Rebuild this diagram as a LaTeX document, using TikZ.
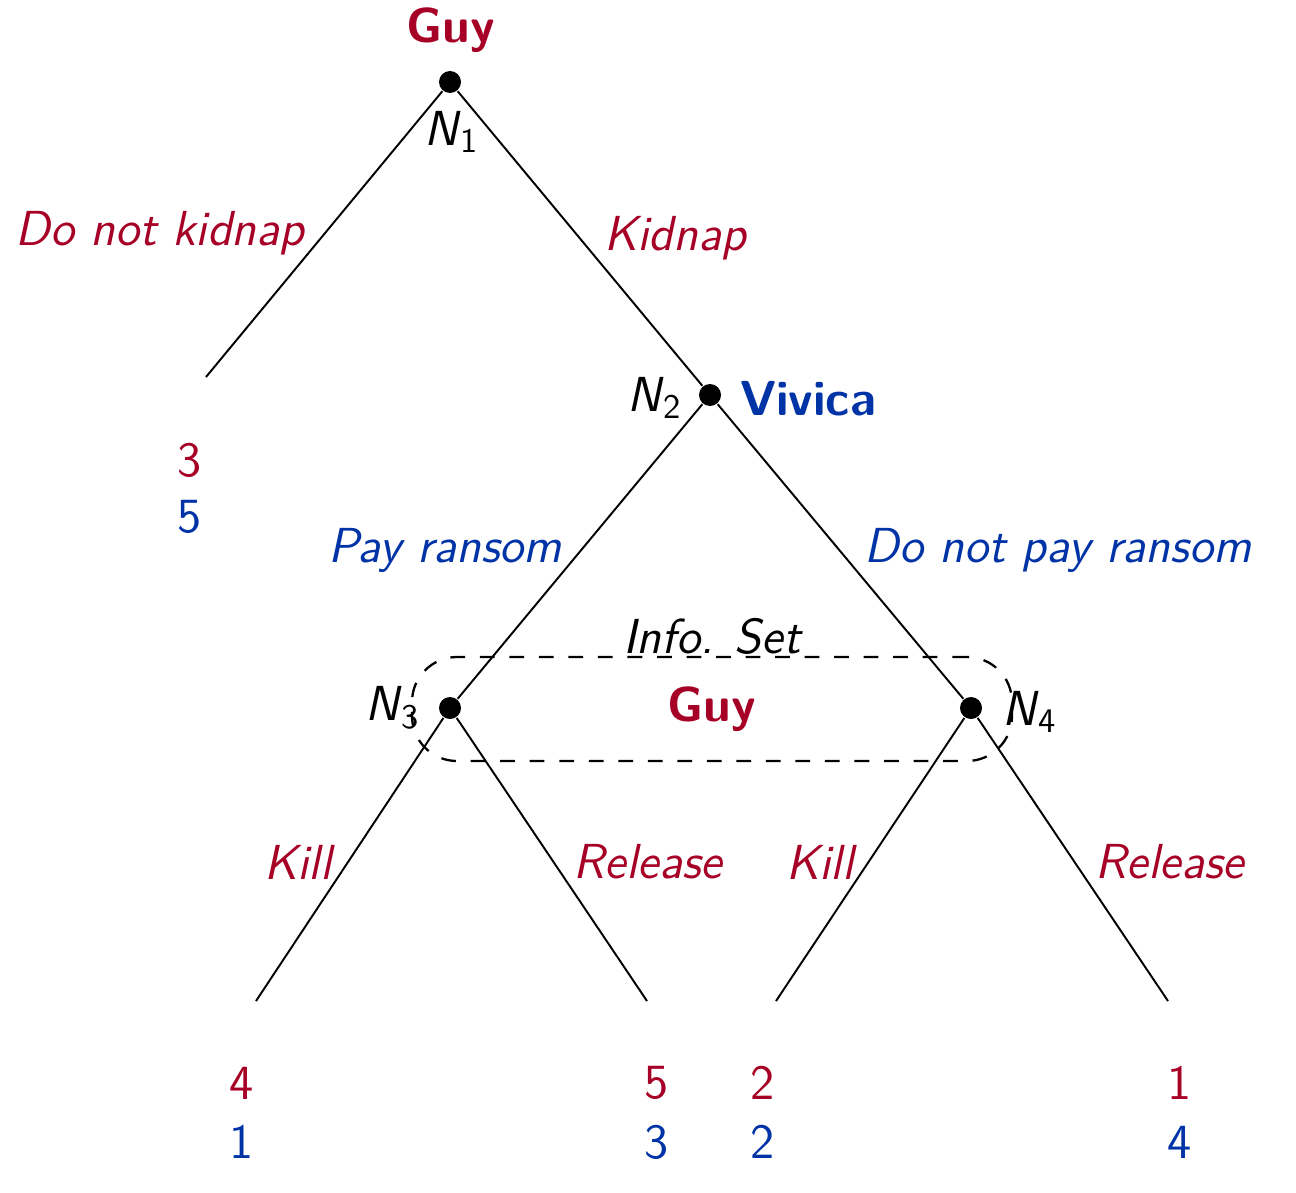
\documentclass[tikz,border=0pt]{standalone}
\usetikzlibrary{positioning}
\definecolor{guyred}{RGB}{166,0,38}
\definecolor{vivblue}{RGB}{0,51,166}
\newcommand{\nd}[1]{\textit{N}\textsubscript{#1}}

\begin{document}
\sffamily\fontsize{14}{17}\selectfont
\begin{tikzpicture}[
    line width=0.55pt,
    dot/.style={circle, fill=black, inner sep=0pt, minimum size=0.22cm},
    guy/.style={text=guyred},
    viv/.style={text=vivblue},
    act/.style={font=\itshape},
    who/.style={font=\bfseries},
    iset/.style={draw, dash pattern=on 4.2pt off 4.2pt, line width=0.65pt, rounded corners=0.45cm, minimum width=6cm, minimum height=1.04cm}
]
\useasboundingbox (0,0) rectangle (12.96,-11.92);

% decision nodes
\node[dot] (n1) at (4.50,-0.82) {};
\node[dot] (n2) at (7.10,-3.95) {};
\node[dot] (n3) at (4.50,-7.08) {};
\node[dot] (n4) at (9.71,-7.08) {};
\coordinate (t0) at (2.06,-3.77);
\coordinate (t1) at (2.56,-10.01);
\coordinate (t2) at (6.47,-10.01);
\coordinate (t3) at (7.76,-10.01);
\coordinate (t4) at (11.68,-10.01);

\draw (n1) -- (t0);
\draw (n1) -- (n2);
\draw (n2) -- (n3);
\draw (n2) -- (n4);
\draw (n3) -- (t1);
\draw (n3) -- (t2);
\draw (n4) -- (t3);
\draw (n4) -- (t4);

% players and node names
\node[guy, who] (g1) at (4.51,-0.30) {Guy};
\node[viv, who] (v1) at (8.08,-3.99) {Vivica};
\node (l1) at (4.52,-1.32) {\nd{1}};
\node (l2) at (6.55,-3.98) {\nd{2}};
\node (l3) at (3.93,-7.08) {\nd{3}};
\node (l4) at (10.30,-7.12) {\nd{4}};

% information set
\node[iset, guy, who] (is) at (7.12,-7.09) {Guy};
\node[act] (isl) at (7.12,-6.36) {Info. Set};

% actions
\node[guy, act] (a1) at (1.60,-2.33) {Do not kidnap};
\node[guy, act] (a2) at (6.75,-2.38) {Kidnap};
\node[viv, act] (a3) at (4.45,-5.50) {Pay ransom};
\node[viv, act] (a4) at (10.58,-5.50) {Do not pay ransom};
\node[guy, act] (a5) at (2.98,-8.62) {Kill};
\node[guy, act] (a6) at (6.48,-8.62) {Release};
\node[guy, act] (a7) at (8.20,-8.62) {Kill};
\node[guy, act] (a8) at (11.70,-8.62) {Release};

% payoffs
\node[guy] (u0g) at (1.90,-4.60) {3};
\node[viv] (u0v) at (1.90,-5.17) {5};
\node[guy] (u1g) at (2.42,-10.83) {4};
\node[viv] (u1v) at (2.42,-11.42) {1};
\node[guy] (u2g) at (6.57,-10.83) {5};
\node[viv] (u2v) at (6.57,-11.42) {3};
\node[guy] (u3g) at (7.63,-10.83) {2};
\node[viv] (u3v) at (7.63,-11.42) {2};
\node[guy] (u4g) at (11.80,-10.83) {1};
\node[viv] (u4v) at (11.80,-11.42) {4};
\end{tikzpicture}
\end{document}
